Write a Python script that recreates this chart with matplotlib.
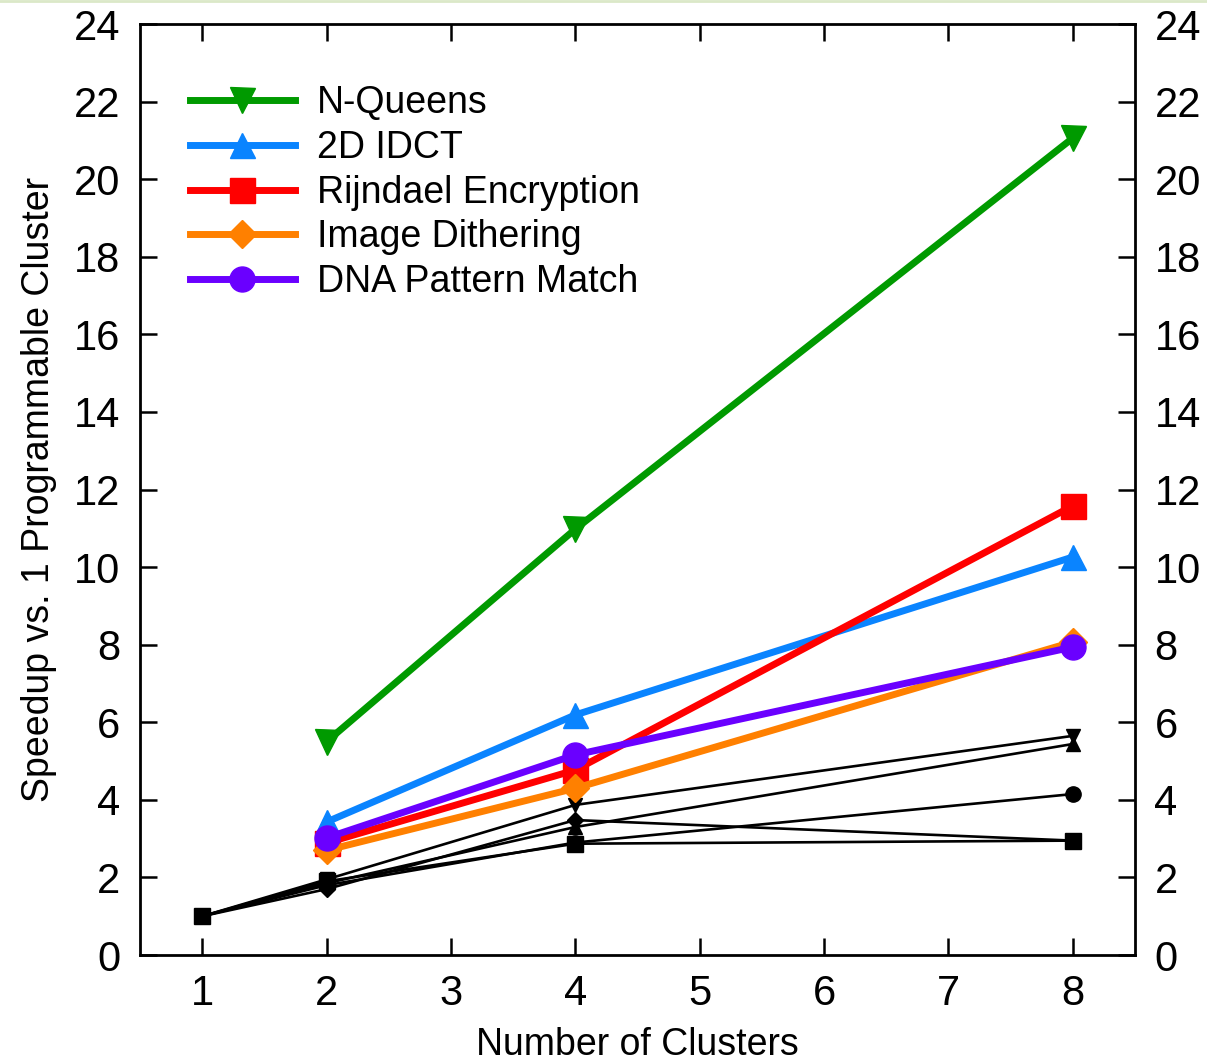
import matplotlib
matplotlib.use("Agg")
import matplotlib.pyplot as plt
from matplotlib.lines import Line2D

# ============================================================
# DATA
# ============================================================

clusters = [1, 2, 4, 8]
clusters_nq = [2, 4, 8]

nqueens = [5.5, 10.98, 21.06]
idct_2d = [3.43, 6.19, 10.26]
rijndael = [2.89, 4.77, 11.58]
dithering = [2.7, 4.3, 8.07]
dna_match = [3.02, 5.16, 7.94]

# unlabeled benchmarks (thin black lines)
other_a = [1.0, 1.95, 3.87, 5.65]
other_b = [1.0, 1.85, 3.3, 5.44]
other_c = [1.0, 1.8, 2.9, 4.15]
other_d = [1.0, 1.7, 3.48, 2.95]
other_e = [1.0, 1.9, 2.87, 2.95]

x_ticks = [1, 2, 3, 4, 5, 6, 7, 8]
y_ticks = list(range(0, 25, 2))

# ============================================================
# STYLE
# ============================================================

plt.rcParams["font.family"] = ["Liberation Sans", "DejaVu Sans"]

fig = plt.figure(figsize=(12.07, 10.64), dpi=100)
ax = fig.add_axes([0.116, 0.1024, 0.8243, 0.875])

# thin pale border line at top of picture
fig.add_artist(Line2D([0, 1], [0.999, 0.999], transform=fig.transFigure,
                      color="#dbe8c8", lw=2))

# ============================================================
# BLACK LINES
# ============================================================

for vals, mk, ms in [(other_a, "v", 10), (other_b, "^", 10),
                     (other_c, "o", 11), (other_d, "D", 8),
                     (other_e, "s", 12)]:
    ax.plot(clusters, vals, color="black", lw=1.9, marker=mk,
            markersize=ms, zorder=2)

# ============================================================
# COLORED SERIES
# ============================================================

series = [
    (clusters_nq, nqueens, "N-Queens", "#009a00", "v", 18),
    (clusters[1:], idct_2d, "2D IDCT", "#0a84ff", "^", 18),
    (clusters[1:], rijndael, "Rijndael Encryption", "#ff0000", "s", 18),
    (clusters[1:], dithering, "Image Dithering", "#ff8000", "D", 14),
    (clusters[1:], dna_match, "DNA Pattern Match", "#6a00ff", "o", 18),
]

for xs, ys, lab, col, mk, ms in series:
    ax.plot(xs, ys, color=col, lw=5, marker=mk, markersize=ms,
            label=lab, zorder=3)

# ============================================================
# AXES
# ============================================================

ax.set_xlim(0.5, 8.5)
ax.set_ylim(0, 24)
ax.set_xticks(x_ticks)
ax.set_yticks(y_ticks)

for sp in ax.spines.values():
    sp.set_linewidth(2)

ax.tick_params(axis="both", direction="in", length=12, width=1.8,
               labelsize=30, top=True, right=True, labelright=True)
ax.tick_params(axis="y", pad=14)
ax.tick_params(axis="x", pad=14)

ax.set_xlabel("Number of Clusters", fontsize=27, labelpad=9)
ax.set_ylabel("Speedup vs. 1 Programmable Cluster", fontsize=27, labelpad=12)

ax.legend(loc="upper left", bbox_to_anchor=(0.05, 0.934), frameon=False,
          fontsize=27, handlelength=2.8, handletextpad=0.6,
          labelspacing=0.23, borderpad=0, borderaxespad=0, numpoints=1)

fig.savefig("out.png", dpi=100)
